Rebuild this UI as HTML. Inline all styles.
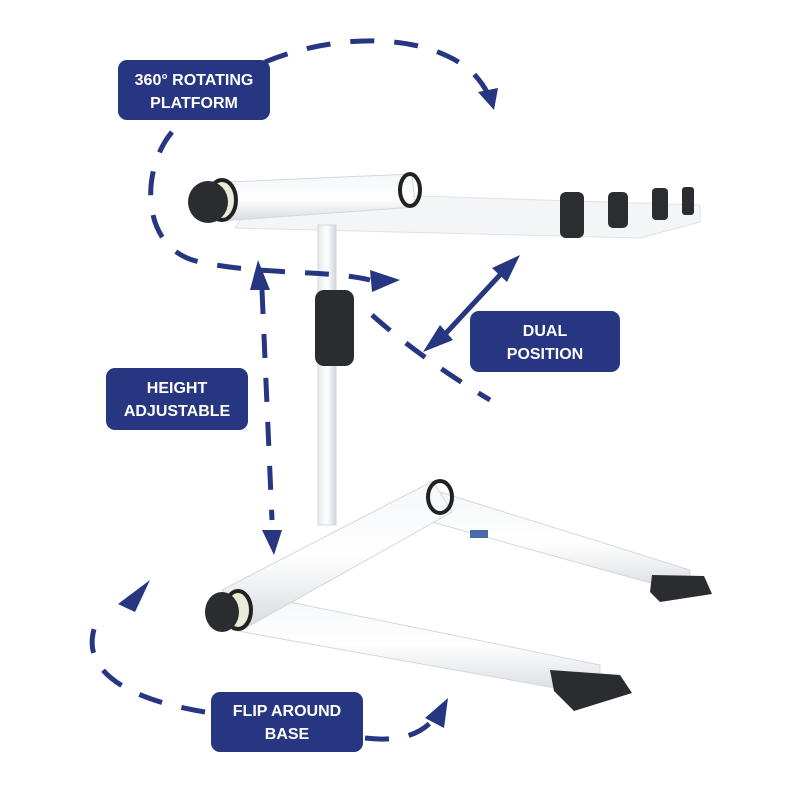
<!DOCTYPE html>
<html><head><meta charset="utf-8"><style>
body{margin:0;background:#fff;}
svg{display:block}
text{font-family:"Liberation Sans",sans-serif;font-size:16px;fill:#fff;text-anchor:middle;font-weight:bold}
</style></head><body>
<svg width="800" height="800" viewBox="0 0 800 800" xmlns="http://www.w3.org/2000/svg">
<defs>
<linearGradient id="tube" x1="0" y1="0" x2="0" y2="1"><stop offset="0" stop-color="#f4f6f8"/><stop offset="0.5" stop-color="#fff"/><stop offset="1" stop-color="#d6dadf"/></linearGradient>
<linearGradient id="vt" x1="0" y1="0" x2="1" y2="0"><stop offset="0" stop-color="#e6e9ec"/><stop offset="0.5" stop-color="#fff"/><stop offset="1" stop-color="#cfd4d9"/></linearGradient>
</defs>
<polygon points="250,205 420,196 700,205 700,222 640,238 235,228" fill="#f3f5f7" stroke="#dfe3e7" stroke-width="1"/>
<rect x="560" y="192" width="24" height="46" rx="6" fill="#2b2d30"/>
<rect x="608" y="192" width="20" height="36" rx="5" fill="#2b2d30"/>
<rect x="652" y="188" width="16" height="32" rx="4" fill="#2b2d30"/>
<rect x="682" y="187" width="12" height="28" rx="3" fill="#2b2d30"/>
<polygon points="205,183 412,174 415,207 208,222" fill="url(#tube)" stroke="#d4d8dc"/>
<ellipse cx="410" cy="190" rx="10" ry="16" fill="none" stroke="#222" stroke-width="4"/>
<ellipse cx="222" cy="200" rx="14" ry="20" fill="#e8ecd8" stroke="#222" stroke-width="4"/>
<ellipse cx="208" cy="202" rx="20" ry="21" fill="#2a2c2f"/>
<rect x="318" y="225" width="18" height="300" fill="url(#vt)" stroke="#d4d8dc"/>
<rect x="315" y="290" width="39" height="76" rx="9" fill="#2a2c2f"/>
<polygon points="440,492 690,570 690,594 432,522" fill="url(#tube)" stroke="#d4d8dc"/>
<polygon points="240,592 600,665 600,696 232,630" fill="url(#tube)" stroke="#d4d8dc"/>
<polygon points="222,590 433,481 452,512 242,630" fill="url(#tube)" stroke="#d4d8dc"/>
<path d="M652,575 l52,1 l8,18 l-52,8 l-10,-10z" fill="#2a2c2f"/>
<path d="M550,670 l70,5 l12,18 l-58,18 l-20,-20z" fill="#2a2c2f"/>
<ellipse cx="440" cy="497" rx="12" ry="16" fill="none" stroke="#222" stroke-width="4"/>
<ellipse cx="238" cy="610" rx="13" ry="19" fill="#e8ecd8" stroke="#222" stroke-width="4"/>
<ellipse cx="222" cy="612" rx="17" ry="20" fill="#2a2c2f"/>
<rect x="470" y="530" width="18" height="8" fill="#4a6aa8"/>
<g fill="none" stroke="#263680" stroke-width="5" stroke-dasharray="24,20">
<path d="M172,132 C140,170 140,250 200,262 C260,275 330,270 370,280"/>
<path d="M265,62 C330,35 420,30 470,70 C482,82 488,92 490,100"/>
<path d="M372,315 C400,340 440,370 490,400"/>
<path d="M262,290 L272,520"/>
<path d="M205,712 C130,700 70,670 100,615"/>
<path d="M365,738 C400,742 420,735 435,718"/>
</g>
<g fill="#263680">
<polygon points="478,92 498,88 494,110"/>
<polygon points="370,270 400,280 372,292"/>
<polygon points="258,260 250,290 270,290"/>
<polygon points="262,530 282,530 274,555"/>
<polygon points="118,604 150,580 135,612"/>
<polygon points="425,718 448,698 444,728"/>
</g>
<line x1="435" y1="345" x2="512" y2="262" stroke="#263680" stroke-width="5"/>
<polygon points="520,255 492,268 507,282" fill="#263680"/>
<polygon points="423,352 440,325 453,340" fill="#263680"/>
<g fill="#263680">
<rect x="118" y="60" width="152" height="60" rx="9"/>
<rect x="470" y="311" width="150" height="61" rx="9"/>
<rect x="106" y="368" width="142" height="62" rx="9"/>
<rect x="211" y="692" width="152" height="60" rx="9"/>
</g>
<text x="194" y="85">360° ROTATING</text><text x="194" y="108">PLATFORM</text>
<text x="545" y="336">DUAL</text><text x="545" y="359">POSITION</text>
<text x="177" y="393">HEIGHT</text><text x="177" y="416">ADJUSTABLE</text>
<text x="287" y="716">FLIP AROUND</text><text x="287" y="739">BASE</text>
</svg>
</body></html>
